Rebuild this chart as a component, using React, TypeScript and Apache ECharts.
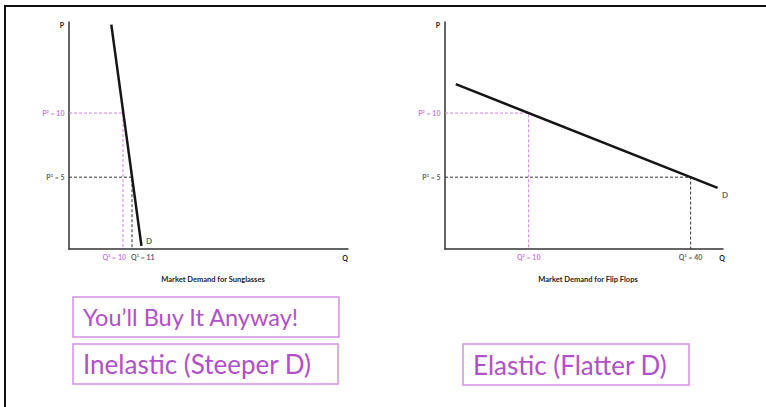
import React, { useEffect, useRef } from "react";
import * as echarts from "echarts";

// ---- data ----
const priceLevels = [10, 5]; // P², P¹
const priceLabels = ["P² = 10", "P¹ = 5"];
const leftQuantities = [10, 11]; // Q², Q¹ (sunglasses)
const leftQLabels = ["Q² = 10", "Q¹ = 11"];
const rightQuantities = [10, 40]; // Q², Q¹ (flip flops)
const rightQLabels = ["Q² = 10", "Q¹ = 40"];
const leftDemand = [
  [8.7, 16.9],
  [12.05, -0.35],
];
const rightDemand = [
  [-3.5, 12.25],
  [45, 4.17],
];
const chartTitles = ["Market Demand for Sunglasses", "Market Demand for Flip Flops"];
const boxTexts = ["You’ll Buy It Anyway!", "Inelastic (Steeper D)", "Elastic (Flatter D)"];

const PURPLE_TEXT = "#bd5ad4";
const PURPLE_LINE = "#d080e2";
const DARK = "#333";
const FONT = "Lato, 'Noto Sans', sans-serif";

const Y_MIN = -0.6;
const Y_MAX = 17.1;

function axisCommon(min: number, max: number, gridIndex: number) {
  return {
    type: "value",
    gridIndex,
    min,
    max,
    axisLine: { show: true, onZero: false, lineStyle: { color: DARK, width: 1.5 } },
    axisTick: { show: false },
    axisLabel: { show: false },
    splitLine: { show: false },
  };
}

function chartSeries(
  gi: number,
  xMin: number,
  demand: number[][],
  qs: number[],
  qLabels: string[],
  qAligns: { align: string; offset: number[] }[],
  dOffset: number[]
) {
  const [p2, p1] = priceLevels;
  const [q2, q1] = qs;
  const base = { xAxisIndex: gi, yAxisIndex: gi, silent: true };
  const labelBase = { show: true, fontFamily: FONT, fontSize: 7, fontWeight: "bold" };
  return [
    {
      ...base,
      type: "line",
      data: [
        [xMin, p2],
        [q2, p2],
        [q2, Y_MIN],
      ],
      showSymbol: false,
      lineStyle: { color: PURPLE_LINE, width: 1, type: [3, 2] },
      z: 3,
    },
    {
      ...base,
      type: "line",
      data: [
        [xMin, p1],
        [q1, p1],
        [q1, Y_MIN],
      ],
      showSymbol: false,
      lineStyle: { color: DARK, width: 1, type: [3, 2] },
      z: 2,
    },
    {
      ...base,
      type: "line",
      data: demand,
      showSymbol: false,
      lineStyle: { color: "#151515", width: 2.5 },
      z: 5,
    },
    {
      ...base,
      type: "scatter",
      symbolSize: 1,
      itemStyle: { color: "rgba(0,0,0,0)" },
      z: 6,
      data: [
        {
          value: [xMin, p2],
          label: { ...labelBase, formatter: priceLabels[0], position: "left", distance: 4, color: PURPLE_TEXT },
        },
        {
          value: [xMin, p1],
          label: { ...labelBase, formatter: priceLabels[1], position: "left", distance: 4, color: DARK },
        },
        {
          value: [q2, Y_MIN],
          label: {
            ...labelBase,
            formatter: qLabels[0],
            position: "bottom",
            distance: 4,
            align: qAligns[0].align,
            offset: qAligns[0].offset,
            color: PURPLE_TEXT,
          },
        },
        {
          value: [q1, Y_MIN],
          label: {
            ...labelBase,
            formatter: qLabels[1],
            position: "bottom",
            distance: 4,
            align: qAligns[1].align,
            offset: qAligns[1].offset,
            color: DARK,
          },
        },
        {
          value: demand[demand.length - 1],
          label: { ...labelBase, formatter: "D", position: "right", distance: 4, offset: dOffset, color: DARK, fontSize: 8 },
        },
      ],
    },
  ];
}

function box(x: number, y: number, w: number, h: number, text: string, size: number) {
  return {
    type: "group",
    x,
    y,
    children: [
      {
        type: "rect",
        shape: { x: 0, y: 0, width: w, height: h },
        style: { fill: "#fff", stroke: "#d690e6", lineWidth: 1.5 },
      },
      {
        type: "text",
        x: 10,
        y: h / 2,
        style: {
          text,
          fill: "#b150c9",
          fontFamily: FONT,
          fontSize: size,
          verticalAlign: "middle",
          align: "left",
        },
      },
    ],
  };
}

function smallText(x: number, y: number, text: string, size = 7, align = "center") {
  return {
    type: "text",
    x,
    y,
    style: {
      text,
      fill: "#222",
      fontFamily: FONT,
      fontSize: size,
      fontWeight: "bold",
      align,
      verticalAlign: "middle",
    },
  };
}

export default function App() {
  const ref = useRef<HTMLDivElement>(null);
  useEffect(() => {
    if (!ref.current) return;
    const chart = echarts.init(ref.current, null, { renderer: "svg" });
    const option = {
      animation: false,
      backgroundColor: "#fff",
      grid: [
        { left: 69, top: 22, width: 279, height: 227 },
        { left: 445, top: 22, width: 278, height: 227 },
      ],
      xAxis: [axisCommon(4, 35, 0), axisCommon(-5.5, 46, 1)],
      yAxis: [axisCommon(Y_MIN, Y_MAX, 0), axisCommon(Y_MIN, Y_MAX, 1)],
      series: [
        ...chartSeries(
          0,
          4,
          leftDemand,
          leftQuantities,
          leftQLabels,
          [
            { align: "right", offset: [3, 0] },
            { align: "left", offset: [-1, 0] },
          ],
          [0, -5]
        ),
        ...chartSeries(
          1,
          -5.5,
          rightDemand,
          rightQuantities,
          rightQLabels,
          [
            { align: "center", offset: [0, 0] },
            { align: "center", offset: [0, 0] },
          ],
          [0, 7]
        ),
      ],
      graphic: [
        {
          type: "rect",
          shape: { x: 5, y: 6, width: 800, height: 450 },
          style: { fill: "none", stroke: "#111", lineWidth: 2 },
          z: 10,
        },
        smallText(62, 25, "P"),
        smallText(345, 258, "Q"),
        smallText(438, 25, "P"),
        smallText(722, 258, "Q"),
        smallText(213, 279, chartTitles[0], 7.5),
        smallText(588, 279, chartTitles[1], 7.5),
        box(73, 297, 266, 40, boxTexts[0], 23.5),
        box(73, 344, 265, 40, boxTexts[1], 26),
        box(463, 344, 226, 41, boxTexts[2], 26),
      ],
    };
    chart.setOption(option as any);
    return () => chart.dispose();
  }, []);
  return (
    <div
      ref={ref}
      style={{ position: "absolute", left: 0, top: 0, width: 766, height: 407 }}
    />
  );
}
